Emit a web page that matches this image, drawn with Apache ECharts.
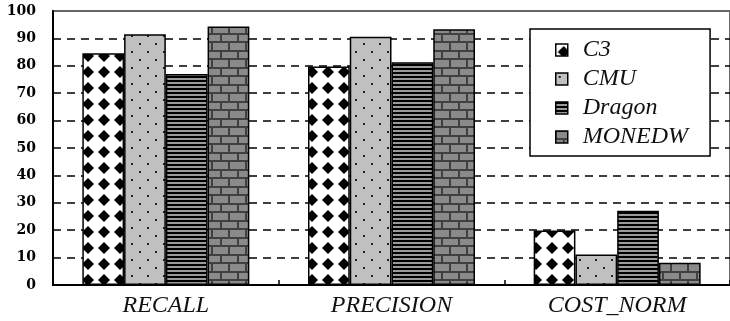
<!DOCTYPE html>
<html>
<head>
<meta charset="utf-8">
<script src="https://cdn.jsdelivr.net/npm/echarts@6/dist/echarts.min.js"></script>
<style>html,body{margin:0;padding:0;background:#fff}#c{width:730px;height:321px}</style>
</head>
<body>
<div id="c"></div>
<script>
var categories = ['RECALL', 'PRECISION', 'COST_NORM'];
var seriesNames = ['C3', 'CMU', 'Dragon', 'MONEDW'];
var c3Values = [84.6, 79.7, 19.9];
var cmuValues = [91.5, 90.6, 11.1];
var dragonValues = [77, 81.3, 27.1];
var monedwValues = [94.3, 93.3, 8.1];
var yTicks = [0, 10, 20, 30, 40, 50, 60, 70, 80, 90, 100];

function mk(w, h, draw) {
  var c = document.createElement('canvas');
  c.width = w; c.height = h;
  draw(c.getContext('2d'));
  return { image: c, repeat: 'repeat' };
}
var patC3 = mk(16, 16, function (g) {
  g.fillStyle = '#fff'; g.fillRect(0, 0, 16, 16);
  g.fillStyle = '#000';
  g.beginPath(); g.moveTo(8, 2); g.lineTo(14, 8); g.lineTo(8, 14); g.lineTo(2, 8); g.closePath(); g.fill();
});
var patCMU = mk(16, 16, function (g) {
  g.fillStyle = '#c0c0c0'; g.fillRect(0, 0, 16, 16);
  g.fillStyle = '#222';
  g.fillRect(3, 3, 2, 2); g.fillRect(11, 11, 2, 2);
});
var patDragon = mk(4, 4, function (g) {
  g.fillStyle = '#9a9a9a'; g.fillRect(0, 0, 4, 4);
  g.fillStyle = '#000'; g.fillRect(0, 0, 4, 2);
});
var patMonedw = mk(17, 17, function (g) {
  g.fillStyle = '#404040'; g.fillRect(0, 0, 17, 17);
  g.fillStyle = '#8a8a8a';
  g.fillRect(1, 1, 15, 6);
  g.fillRect(0, 9, 7, 7); g.fillRect(9, 9, 8, 7);
});
var pats = [patC3, patCMU, patDragon, patMonedw];
var vals = [c3Values, cmuValues, dragonValues, monedwValues];

var chart = echarts.init(document.getElementById('c'), null, { renderer: 'canvas' });
chart.setOption({
  animation: false,
  backgroundColor: '#fff',
  grid: { left: 53, right: -3, top: 11, bottom: 36, show: true, borderColor: '#666', borderWidth: 2, backgroundColor: '#fff' },
  legend: {
    orient: 'vertical', left: 530, top: 29,
    padding: [9, 22, 7, 25],
    backgroundColor: '#fff', borderColor: '#000', borderWidth: 1.5,
    itemWidth: 12, itemHeight: 12, itemGap: 5, icon: 'rect',
    itemStyle: { borderColor: '#000', borderWidth: 1.5 },
    textStyle: { fontFamily: 'Liberation Serif', fontStyle: 'italic', fontSize: 24, lineHeight: 23.5, color: '#111', padding: [0, 0, 0, 10] },
    data: seriesNames
  },
  xAxis: {
    type: 'category', data: categories,
    axisLine: { lineStyle: { color: '#000', width: 2 } },
    axisTick: { show: true, inside: true, length: 5, lineStyle: { color: '#000', width: 1.5 } },
    axisLabel: { fontFamily: 'Liberation Serif', fontStyle: 'italic', fontSize: 24, color: '#111', margin: 9 }
  },
  yAxis: {
    type: 'value', min: 0, max: 100, interval: 10,
    axisLine: { show: true, lineStyle: { color: '#000', width: 2 } },
    axisTick: { show: false },
    splitLine: { show: true, showMinLine: false, showMaxLine: false, lineStyle: { color: '#000', width: 1.5, type: [8, 6] } },
    axisLabel: {
      fontFamily: 'DejaVu Serif', fontWeight: 'bold', fontSize: 14, color: '#000', margin: 17,
      formatter: function (v) { return yTicks.indexOf(v) >= 0 ? String(v) : ''; }
    }
  },
  series: seriesNames.map(function (n, i) {
    return {
      name: n, type: 'bar', data: vals[i],
      barGap: '0%', barCategoryGap: '26%',
      itemStyle: { color: pats[i], borderColor: '#000', borderWidth: 1.5 }
    };
  })
});
</script>
</body>
</html>
